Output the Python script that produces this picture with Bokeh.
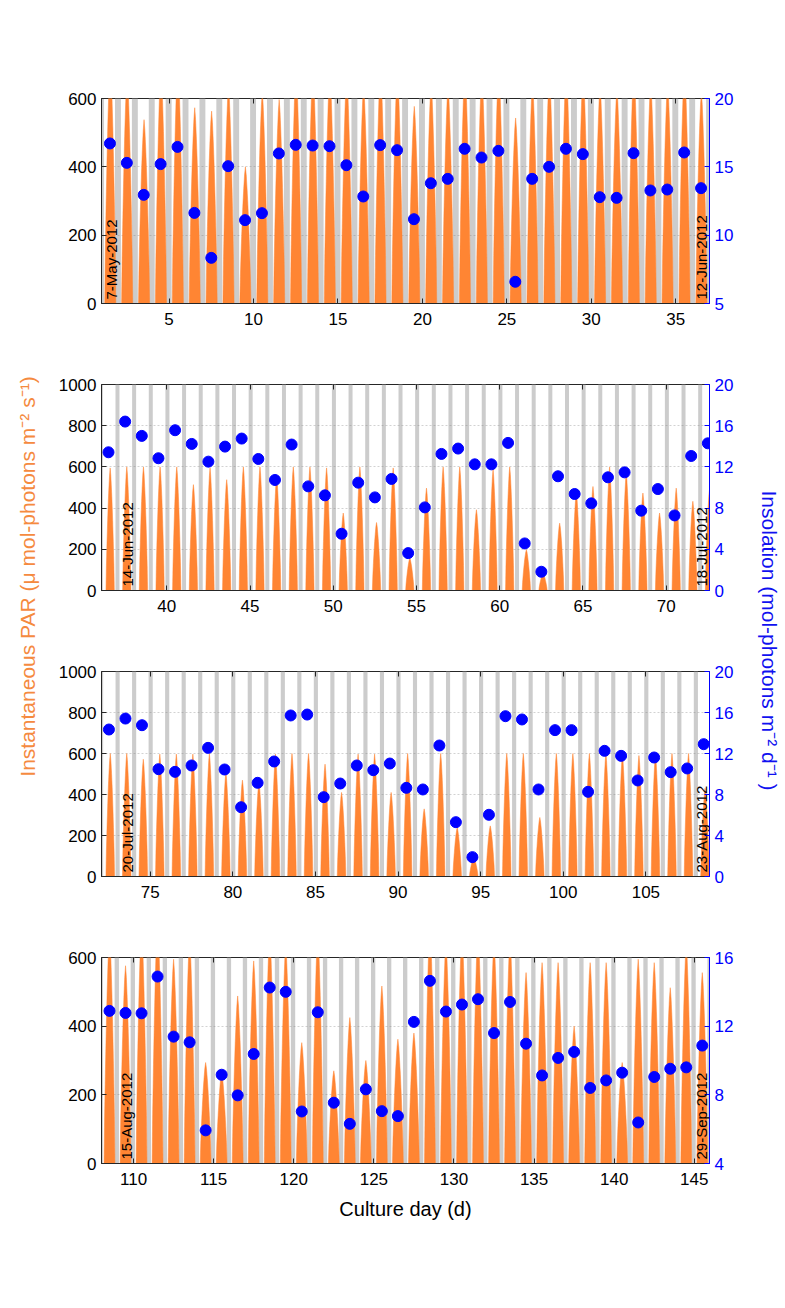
import math
from bokeh.plotting import figure
from bokeh.models import Range1d, LinearAxis, FixedTicker, Label
from bokeh.layouts import row, column
from bokeh.embed import file_html
from bokeh.resources import INLINE

FONT = "Liberation Sans"
ORANGE = "#FF8533"
LABEL_ORANGE = "#F58A3F"
BLUE = "#0000FF"
NIGHT = "#CCCCCC"
DARK = "#262626"

# ---------------- data ----------------
# daily insolation (mol-photons m-2 d-1), one value per culture day, plotted at day + 0.5
P1_START = 1
P1_INS = [16.71, 15.29, 12.95, 15.2, 16.46, 11.63, 8.34, 15.05, 11.1, 11.61, 15.98, 16.61,
          16.56, 16.51, 15.12, 12.83, 16.59, 16.22, 11.17, 13.8, 14.12, 16.32, 15.68, 16.17,
          6.59, 14.12, 15.0, 16.32, 15.93, 12.78, 12.73, 16.0, 13.27, 13.34, 16.05, 13.44]
# daily peak of instantaneous PAR (umol-photons m-2 s-1)
P1_PEAK = [720, 680, 538, 700, 720, 573, 563, 640, 400, 620, 597, 700,
           700, 690, 680, 640, 700, 690, 577, 650, 640, 700, 680, 700,
           543, 650, 680, 700, 690, 640, 630, 700, 650, 650, 700, 620]

P2_START = 36
P2_INS = [13.42, 16.40, 15.01, 12.84, 15.56, 14.23, 12.51, 13.97, 14.75, 12.77, 10.73, 14.17,
          10.11, 9.24, 5.51, 10.47, 9.04, 10.83, 3.63, 8.07, 13.26, 13.78, 12.25, 12.25,
          14.33, 4.57, 1.82, 11.09, 9.37, 8.46, 10.99, 11.47, 7.75, 9.85, 7.29, 13.06, 14.29]
P2_PEAK = [595, 600, 600, 600, 600, 514, 595, 538, 600, 600, 560, 600,
           600, 595, 376, 600, 330, 595, 157, 497, 600, 600, 392, 587,
           600, 198, 84, 327, 481, 505, 600, 570, 473, 376, 497, 433, 490]

P3_START = 72
P3_INS = [14.34, 15.41, 14.76, 10.47, 10.21, 10.83, 12.55, 10.44, 6.76, 9.14, 11.22, 15.71,
          15.80, 7.74, 9.07, 10.83, 10.37, 11.02, 8.65, 8.49, 12.78, 5.30, 1.89, 6.02,
          15.64, 15.32, 8.49, 14.28, 14.28, 8.26, 12.26, 11.77, 9.37, 11.61, 10.18, 10.54, 12.91]
P3_PEAK = [600, 600, 572, 597, 597, 597, 600, 507, 470, 465, 597, 600,
           600, 548, 410, 597, 597, 410, 600, 330, 600, 239, 95, 247,
           600, 600, 288, 600, 600, 600, 600, 597, 590, 597, 600, 600, 430]

P4_START = 108
P4_INS = [12.89, 12.77, 12.75, 14.89, 11.39, 11.06, 5.93, 9.17, 7.97, 10.38, 14.25, 14.0,
          7.03, 12.81, 7.54, 6.31, 8.32, 7.05, 6.76, 12.25, 14.64, 12.85, 13.26, 13.57,
          11.6, 13.41, 10.98, 9.13, 10.15, 10.5, 8.4, 8.84, 9.29, 6.39, 9.04, 9.52, 9.6, 10.87]
P4_PEAK = [680, 576, 700, 720, 595, 660, 294, 270, 488, 590, 680, 640,
           352, 680, 270, 425, 300, 517, 362, 380, 700, 650, 680, 690,
           650, 660, 556, 585, 585, 400, 585, 585, 294, 595, 585, 512, 640, 556]

# normalised diurnal shape of one clear day (time from solar noon / half day-length, relative PAR)
PROFILE_T = [-1.0, -0.9, -0.75, -0.6, -0.45, -0.3, -0.15, 0.0, 0.15, 0.3, 0.45, 0.6, 0.75, 0.9, 1.0]
PROFILE_V = [0.0, 0.2, 0.4, 0.57, 0.72, 0.84, 0.94, 1.0, 0.94, 0.84, 0.72, 0.57, 0.4, 0.2, 0.0]

DATES = [("7-May-2012", "12-Jun-2012"), ("14-Jun-2012", "18-Jul-2012"),
         ("20-Jul-2012", "23-Aug-2012"), ("15-Aug-2012", "29-Sep-2012")]
X_TICKS = [[5, 10, 15, 20, 25, 30, 35], [40, 45, 50, 55, 60, 65, 70],
           [75, 80, 85, 90, 95, 100, 105], [110, 115, 120, 125, 130, 135, 140, 145]]
YL_TICKS = [[0, 200, 400, 600], [0, 200, 400, 600, 800, 1000],
            [0, 200, 400, 600, 800, 1000], [0, 200, 400, 600]]
YR_TICKS = [[5, 10, 15, 20], [0, 4, 8, 12, 16, 20], [0, 4, 8, 12, 16, 20], [4, 8, 12, 16]]

# ---------------- layout / style per panel ----------------
PANELS = [
    dict(start=P1_START, ins=P1_INS, peak=P1_PEAK, xr=(1.0, 37.0), yl=(0, 600), yr=(5, 20),
         night=(-0.2, 0.15), day=(0.52, 0.33), fh=205, bt=98, bb=30, loff=10),
    dict(start=P2_START, ins=P2_INS, peak=P2_PEAK, xr=(36.08, 72.6), yl=(0, 1000), yr=(0, 20),
         night=(-0.08, 0.16), day=(0.6, 0.25), fh=206, bt=51, bb=30, loff=26),
    dict(start=P3_START, ins=P3_INS, peak=P3_PEAK, xr=(72.05, 108.85), yl=(0, 1000), yr=(0, 20),
         night=(-0.1, 0.15), day=(0.58, 0.26), fh=205, bt=51, bb=30, loff=26),
    dict(start=P4_START, ins=P4_INS, peak=P4_PEAK, xr=(108.0, 145.95), yl=(0, 600), yr=(4, 16),
         night=(-0.18, 0.09), day=(0.5, 0.34), fh=206, bt=51, bb=70, loff=25),
]

FRAME_W = 608
BL, BR = 48, 32
TOP0 = 1    # page y where the first figure starts
LEFT_W = 53  # width of the left label strip


def style_axis(ax, color=DARK, label_color="black", standoff=5):
    ax.major_tick_in = 5
    ax.major_tick_out = 0
    ax.minor_tick_line_color = None
    ax.axis_line_color = color
    ax.major_tick_line_color = color
    ax.major_label_text_color = label_color
    ax.major_label_text_font = FONT
    ax.major_label_text_font_size = "17px"
    ax.major_label_standoff = standoff


figs = []
for i, cfg in enumerate(PANELS):
    p = figure(frame_width=FRAME_W, frame_height=cfg["fh"],
               x_range=Range1d(*cfg["xr"]), y_range=Range1d(*cfg["yl"]),
               output_backend="svg", toolbar_location=None,
               min_border_left=BL, min_border_right=BR,
               min_border_top=cfg["bt"], min_border_bottom=cfg["bb"])
    p.extra_y_ranges = {"r": Range1d(*cfg["yr"])}
    p.outline_line_color = DARK
    p.background_fill_color = "white"

    n = len(cfg["ins"])
    days = [cfg["start"] + k for k in range(n)]

    # night bands
    lo = int(math.floor(cfg["xr"][0]))
    hi = int(math.ceil(cfg["xr"][1]))
    nights = list(range(lo, hi + 1))
    nq = p.quad(left=[d + cfg["night"][0] for d in nights],
                right=[d + cfg["night"][1] for d in nights],
                bottom=cfg["yl"][0], top=cfg["yl"][1],
                fill_color=NIGHT, line_color=None)
    nq.level = "underlay"

    # instantaneous PAR (daily light curves)
    c, hw = cfg["day"]
    xs = [[d + c + hw * t for t in PROFILE_T] for d in days]
    ys = [[pk * v for v in PROFILE_V] for pk in cfg["peak"]]
    p.patches(xs=xs, ys=ys, fill_color=ORANGE, line_color=ORANGE, line_width=0.5)

    # daily insolation
    p.scatter(x=[d + 0.5 for d in days], y=cfg["ins"], y_range_name="r",
              size=11, fill_color=BLUE, line_color=BLUE)

    # axes
    bax = p.below[0]
    lax = p.left[0]
    bax.ticker = FixedTicker(ticks=X_TICKS[i])
    lax.ticker = FixedTicker(ticks=YL_TICKS[i])
    style_axis(bax, standoff=9)
    style_axis(lax)
    ra = LinearAxis(y_range_name="r", ticker=FixedTicker(ticks=YR_TICKS[i]))
    style_axis(ra, color=BLUE, label_color=BLUE)
    p.add_layout(ra, "right")
    ta = LinearAxis(ticker=FixedTicker(ticks=X_TICKS[i]))
    style_axis(ta, standoff=0)
    ta.axis_line_color = None
    ta.major_label_overrides = {t: "" for t in X_TICKS[i]}
    p.add_layout(ta, "above")

    p.xgrid.visible = False
    p.ygrid.grid_line_color = "#808080"
    p.ygrid.grid_line_alpha = 0.45
    p.ygrid.grid_line_dash = "2 2"
    p.ygrid.grid_line_width = 0.8

    # date labels
    d0, d1 = DATES[i]
    p.add_layout(Label(x=cfg["xr"][0], y=cfg["yl"][0], x_offset=cfg["loff"], y_offset=4,
                       text=d0, angle=math.pi / 2, text_align="left", text_baseline="middle",
                       text_font=FONT, text_font_size="15px", text_color="black"))
    p.add_layout(Label(x=cfg["xr"][1], y=cfg["yl"][0], x_offset=-8, y_offset=4,
                       text=d1, angle=math.pi / 2, text_align="left", text_baseline="middle",
                       text_font=FONT, text_font_size="15px", text_color="black"))

    if i == 3:
        bax.axis_label = "Culture day (d)"
        bax.axis_label_text_font = FONT
        bax.axis_label_text_font_size = "20px"
        bax.axis_label_text_font_style = "normal"
        bax.axis_label_standoff = 10
        bax.axis_label_text_color = "black"
    figs.append(p)

TOTAL_H = sum(cfg["bt"] + cfg["fh"] + cfg["bb"] for cfg in PANELS)


def label_fig(w, x, y, text, angle, color):
    f = figure(frame_width=w, frame_height=TOTAL_H, x_range=Range1d(0, w), y_range=Range1d(0, TOTAL_H),
               min_border=0, toolbar_location=None, x_axis_location=None, y_axis_location=None,
               output_backend="svg")
    f.outline_line_color = None
    f.grid.visible = False
    f.add_layout(Label(x=x, y=y, text=text, angle=angle, text_align="center", text_baseline="middle",
                       text_font=FONT, text_font_size="21px", text_color=color))
    return f


left = label_fig(LEFT_W, 28 - 1, TOTAL_H - (577 - TOP0),
                 "Instantaneous PAR (\u03bc mol-photons m\u207b\u00b2 s\u207b\u00b9)", math.pi / 2, LABEL_ORANGE)
right = label_fig(42, 28, TOTAL_H - (641 - TOP0),
                  "Insolation (mol-photons m\u207b\u00b2 d\u207b\u00b9 )", -math.pi / 2, "#1010F0")

layout = row(left, column(*figs), right)
open("out.html", "w").write(file_html(layout, INLINE))
